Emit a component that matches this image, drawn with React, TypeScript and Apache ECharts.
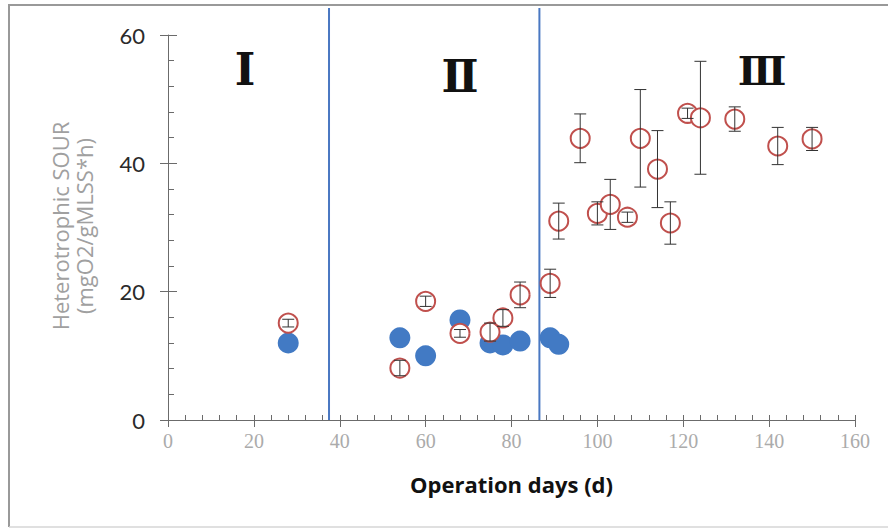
import React, { useEffect, useRef } from "react";
import * as echarts from "echarts";

// Blue filled circles
const blueDays = [28, 54, 60, 68, 75, 78, 82, 89, 91];
const blueSOUR = [12.0, 12.8, 10.0, 15.6, 12.0, 11.7, 12.3, 12.8, 11.8];

// Red open circles with error bars
const redDays = [28, 54, 60, 68, 75, 78, 82, 89, 91, 96, 100, 103, 107, 110, 114, 117, 121, 124, 132, 142, 150];
const redSOUR = [15.1, 8.1, 18.5, 13.5, 13.7, 15.9, 19.5, 21.3, 31.0, 43.9, 32.2, 33.6, 31.6, 43.9, 39.1, 30.7, 47.8, 47.1, 46.9, 42.7, 43.8];
const redErr = [0.6, 1.2, 0.8, 0.6, 1.4, 1.3, 2.0, 2.2, 2.8, 3.8, 1.8, 3.9, 0.8, 7.6, 6.0, 3.3, 0.8, 8.8, 1.9, 2.9, 1.8];

// Phase boundaries (days)
const phaseBoundaries = [37.5, 86.5];
const phaseLabels = ["Ⅰ", "Ⅱ", "Ⅲ"];

const xTicks = { min: 0, max: 160, interval: 20 };
const yTicks = { min: 0, max: 60, interval: 20 };

const xName = "Operation days (d)";
const yNameLines = ["Heterotrophic SOUR", "(mgO2/gMLSS*h)"];

export default function App() {
  const ref = useRef<HTMLDivElement>(null);
  useEffect(() => {
    if (!ref.current) return;
    const chart = echarts.init(ref.current, null, { renderer: "svg" });
    const blueData = blueDays.map((d, i) => [d, blueSOUR[i]]);
    const redData = redDays.map((d, i) => [d, redSOUR[i]]);
    const errData = redDays.map((d, i) => [d, redSOUR[i], redErr[i]]);
    const axisColor = "#6b6b6b";
    const option: any = {
      animation: false,
      backgroundColor: "#ffffff",
      grid: { left: 168, right: 33, top: 35, bottom: 109, containLabel: false },
      xAxis: [
        {
          type: "value",
          ...xTicks,
          position: "bottom",
          splitLine: { show: false },
          axisLine: { show: true, lineStyle: { color: axisColor, width: 1 } },
          axisTick: { show: true, inside: true, length: 5, lineStyle: { color: axisColor } },
          minorTick: { show: true, splitNumber: 5, length: 5, lineStyle: { color: axisColor } },
          axisLabel: {
            color: "#ababab",
            fontFamily: "Liberation Serif",
            fontSize: 20,
            margin: 11,
          },
          name: xName,
          nameLocation: "middle",
          nameGap: 53,
          nameTextStyle: {
            color: "#111",
            fontFamily: "Open Sans",
            fontWeight: "bold",
            fontSize: 22,
          },
        },
        {
          type: "value",
          ...xTicks,
          position: "bottom",
          splitLine: { show: false },
          axisLine: { show: false },
          axisTick: { show: true, inside: false, length: 7, lineStyle: { color: axisColor } },
          axisLabel: { show: false },
        },
      ],
      yAxis: [
        {
          type: "value",
          ...yTicks,
          position: "left",
          splitLine: { show: false },
          axisLine: { show: true, lineStyle: { color: axisColor, width: 1 } },
          axisTick: { show: true, inside: true, length: 9, lineStyle: { color: axisColor } },
          minorTick: { show: true, splitNumber: 5, length: 6, lineStyle: { color: axisColor } },
          axisLabel: {
            color: "#2a2a2a",
            fontFamily: "Lato",
            fontSize: 22,
            margin: 23,
          },
        },
        {
          type: "value",
          ...yTicks,
          position: "left",
          splitLine: { show: false },
          axisLine: { show: false },
          axisTick: { show: true, inside: false, length: 8, lineStyle: { color: axisColor } },
          axisLabel: { show: false },
        },
      ],
      graphic: [
        {
          type: "polyline",
          shape: { points: [[9, 527], [9, 5], [888, 5]] },
          style: { fill: "none", stroke: "#999999", lineWidth: 2 },
          silent: true,
          z: -10,
        },
        {
          type: "line",
          shape: { x1: 9, y1: 527, x2: 888, y2: 527 },
          style: { stroke: "#d6d6d6", lineWidth: 1.5 },
          silent: true,
          z: -10,
        },
        {
          type: "text",
          x: 60,
          y: 226,
          rotation: Math.PI / 2,
          style: {
            text: yNameLines[0],
            fill: "#a0a0a0",
            font: "22px 'Open Sans'",
            textAlign: "center",
            textVerticalAlign: "middle",
          },
        },
        {
          type: "text",
          x: 84,
          y: 226,
          rotation: Math.PI / 2,
          style: {
            text: yNameLines[1],
            fill: "#a0a0a0",
            font: "22px 'Open Sans'",
            textAlign: "center",
            textVerticalAlign: "middle",
          },
        },
        {
          type: "text",
          x: 245,
          y: 69,
          style: {
            text: phaseLabels[0],
            fill: "#111",
            font: "bold 44px 'DejaVu Serif'",
            textAlign: "center",
            textVerticalAlign: "middle",
          },
        },
        {
          type: "text",
          x: 460,
          y: 76,
          style: {
            text: phaseLabels[1],
            fill: "#111",
            font: "bold 44px 'DejaVu Serif'",
            textAlign: "center",
            textVerticalAlign: "middle",
          },
        },
        {
          type: "text",
          x: 762,
          y: 70,
          style: {
            text: phaseLabels[2],
            fill: "#111",
            font: "bold 40px 'DejaVu Serif'",
            textAlign: "center",
            textVerticalAlign: "middle",
          },
        },
      ],
      series: [
        {
          type: "custom",
          name: "phases",
          xAxisIndex: 0,
          yAxisIndex: 0,
          z: 1,
          data: phaseBoundaries.map((b) => [b]),
          renderItem: (params: any, api: any) => {
            const p = api.coord([api.value(0), 0]);
            const top = params.coordSys.y - 27;
            return {
              type: "line",
              shape: { x1: p[0], y1: top, x2: p[0], y2: p[1] },
              style: { stroke: "#4a78c2", lineWidth: 2 },
            };
          },
        },
        {
          type: "scatter",
          name: "blue",
          xAxisIndex: 0,
          yAxisIndex: 0,
          z: 2,
          symbol: "circle",
          symbolSize: 21,
          itemStyle: { color: "#427ac4", opacity: 1 },
          data: blueData,
        },
        {
          type: "scatter",
          name: "red",
          xAxisIndex: 0,
          yAxisIndex: 0,
          z: 3,
          symbol: "circle",
          symbolSize: 19,
          itemStyle: { color: "#ffffff", borderColor: "#c0504d", borderWidth: 2, opacity: 1 },
          data: redData,
        },
        {
          type: "custom",
          name: "errors",
          xAxisIndex: 0,
          yAxisIndex: 0,
          z: 4,
          data: errData,
          renderItem: (params: any, api: any) => {
            const x = api.value(0);
            const y = api.value(1);
            const e = api.value(2);
            const hi = api.coord([x, y + e]);
            const lo = api.coord([x, y - e]);
            const cw = 6;
            const style = { stroke: "#333", lineWidth: 1 };
            return {
              type: "group",
              children: [
                { type: "line", shape: { x1: hi[0], y1: hi[1], x2: lo[0], y2: lo[1] }, style },
                { type: "line", shape: { x1: hi[0] - cw, y1: hi[1], x2: hi[0] + cw, y2: hi[1] }, style },
                { type: "line", shape: { x1: lo[0] - cw, y1: lo[1], x2: lo[0] + cw, y2: lo[1] }, style },
              ],
            };
          },
        },
      ],
    };
    chart.setOption(option);
    return () => chart.dispose();
  }, []);
  return (
    <div
      ref={ref}
      style={{ position: "fixed", left: 0, top: 0, width: 888, height: 529, background: "#fff" }}
    />
  );
}
